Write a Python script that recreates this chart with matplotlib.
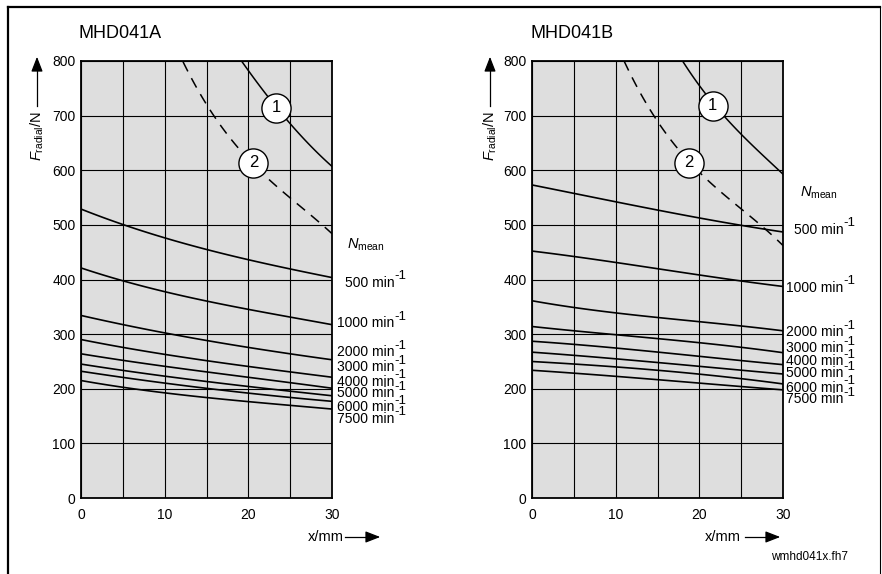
import numpy as np
import matplotlib.pyplot as plt
from matplotlib.lines import Line2D

plt.rcParams['font.family'] = ['Liberation Sans', 'DejaVu Sans']
plt.rcParams['mathtext.fontset'] = 'custom'
plt.rcParams['mathtext.rm'] = 'Liberation Sans'
plt.rcParams['mathtext.it'] = 'Liberation Sans:italic'

# x positions (mm) at which the speed curves were read
x_mm = [0, 5, 10, 15, 20, 25, 30]
speeds = ["500", "1000", "2000", "3000", "4000", "5000", "6000", "7500"]

# MHD041A, radial force (N) per mean speed
a_curves = [
    [528, 503, 476, 452, 438, 420, 403],
    [421, 398, 378, 360, 345, 332, 317],
    [334, 318, 302, 288, 276, 264, 253],
    [290, 276, 263, 251, 241, 231, 221],
    [264, 252, 241, 231, 221, 211, 201],
    [245, 234, 223, 213, 204, 196, 187],
    [232, 221, 210, 201, 192, 184, 177],
    [215, 203, 192, 184, 177, 169, 163],
]
# MHD041B
b_curves = [
    [573, 558, 542, 527, 513, 499, 487],
    [452, 442, 432, 419, 408, 398, 387],
    [361, 349, 339, 330, 323, 315, 306],
    [314, 306, 299, 292, 284, 276, 266],
    [287, 281, 275, 267, 259, 252, 244],
    [267, 261, 255, 248, 241, 234, 227],
    [250, 245, 240, 234, 227, 218, 209],
    [234, 228, 223, 217, 210, 204, 198],
]

# limit curves (1 solid, 2 dashed)
a_lim1_x = [19.2, 20, 22, 24, 26, 28, 30]
a_lim1_y = [800, 782, 742, 703, 668, 636, 607]
a_lim2_x = [12.2, 14, 16, 18, 20, 22, 24, 26, 28, 30]
a_lim2_y = [800, 745, 695, 655, 622, 592, 563, 535, 508, 486]
b_lim1_x = [18, 20, 22, 24, 26, 28, 30]
b_lim1_y = [800, 755, 716, 682, 651, 621, 593]
b_lim2_x = [11, 12, 14, 16, 18, 20, 22, 24, 26, 28, 30]
b_lim2_y = [800, 770, 712, 668, 628, 597, 570, 542, 515, 490, 463]

W, H = 882, 574
fig = plt.figure(figsize=(W / 100, H / 100), dpi=100)


def fx(px):
    return px / W


def fy(py):
    return 1 - py / H


def smooth(xs, ys):
    xx = np.linspace(xs[0], xs[-1], 120)
    k = min(3, len(xs) - 1)
    c = np.polyfit(xs, ys, k)
    return xx, np.polyval(c, xx)


panels = [
    dict(title="MHD041A", left=81, curves=a_curves,
         lim=(a_lim1_x, a_lim1_y, a_lim2_x, a_lim2_y),
         circ=((23.3, 714), (20.6, 614)),
         nmean=(31.8, 463), lab_x=30.6,
         lab_y=[394, 320, 267, 240, 213, 192, 166, 145],
         ylab_x=37, xlab=(326, 345, 383)),
    dict(title="MHD041B", left=532, curves=b_curves,
         lim=(b_lim1_x, b_lim1_y, b_lim2_x, b_lim2_y),
         circ=((21.6, 718), (18.8, 614)),
         nmean=(32.0, 559), lab_x=30.4,
         lab_y=[491, 385, 304, 274, 250, 228, 202, 181],
         ylab_x=490, xlab=(723, 745, 783)),
]

for p in panels:
    ax = fig.add_axes([fx(p["left"]), fy(498), 251 / W, 437 / H])
    ax.set_facecolor("#dedede")
    ax.set_xlim(0, 30)
    ax.set_ylim(0, 800)
    ax.set_xticks(np.arange(0, 31, 5))
    ax.set_xticklabels(["0", "", "10", "", "20", "", "30"])
    ax.set_yticks(np.arange(0, 801, 100))
    ax.tick_params(length=0, labelsize=10, pad=4)
    ax.tick_params(axis="x", pad=7)
    ax.grid(True, color="black", linewidth=0.8)
    ax.set_axisbelow(True)
    for s in ax.spines.values():
        s.set_linewidth(1.3)

    for ys in p["curves"]:
        xx, yy = smooth(x_mm, ys)
        ax.plot(xx, yy, color="black", lw=1.2, zorder=3)

    l1x, l1y, l2x, l2y = p["lim"]
    xx, yy = smooth(l1x, l1y)
    ax.plot(xx, yy, color="black", lw=1.1, zorder=3)
    xx, yy = smooth(l2x, l2y)
    ax.plot(xx, yy, color="black", lw=1.1, dashes=(7, 5), zorder=3)

    for i, (cx, cy) in enumerate(p["circ"]):
        ax.plot(cx, cy, "o", ms=21, mfc="white", mec="black", mew=1.0, zorder=5)
        ax.text(cx, cy, str(i + 1), ha="center", va="center", fontsize=12, zorder=6)

    ax.text(p["nmean"][0], p["nmean"][1], r"$\mathit{N}_{\mathrm{mean}}$",
            fontsize=10.5, ha="left", va="center", clip_on=False)
    for sp, ly in zip(speeds, p["lab_y"]):
        lx = p["lab_x"] + (0.9 if sp == "500" else 0)
        t = ax.text(lx, ly, sp + " min", fontsize=10, ha="left",
                    va="center", clip_on=False)
        ax.annotate("-1", xy=(1.0, 0.95), xycoords=t, fontsize=9.5,
                    ha="left", va="center")

    fig.text(fx(p["left"] - 2), fy(33), p["title"], fontsize=13,
             ha="left", va="center")

    # y axis label with upward arrow
    fig.text(fx(p["ylab_x"]), fy(136), r"$\mathit{F}_{\mathrm{radial}}$/N",
             rotation=90, fontsize=10.5, ha="center", va="center")
    fig.add_artist(Line2D([fx(p["ylab_x"])] * 2, [fy(106), fy(64)],
                          color="black", lw=0.9))
    ax.annotate("", xy=(fx(p["ylab_x"]), fy(54)),
                xytext=(fx(p["ylab_x"]), fy(67)), xycoords="figure fraction",
                arrowprops=dict(arrowstyle="-|>,head_length=0.9,head_width=0.35",
                                color="black", lw=0.9))

    # x axis label with arrow
    tx, a0, a1 = p["xlab"]
    fig.text(fx(tx), fy(537), "x/mm", fontsize=10.5, ha="center", va="center")
    fig.add_artist(Line2D([fx(a0), fx(a1 - 10)], [fy(537)] * 2,
                          color="black", lw=0.9))
    ax.annotate("", xy=(fx(a1), fy(537)), xytext=(fx(a1 - 12), fy(537)),
                xycoords="figure fraction",
                arrowprops=dict(arrowstyle="-|>,head_length=0.9,head_width=0.35",
                                color="black", lw=0.9))

fig.text(fx(848), fy(557), "wmhd041x.fh7", fontsize=8.5, ha="right", va="center")

# outer frame
fig.add_artist(Line2D([fx(8), fx(8)], [fy(7), 0], color="black", lw=1.6))
fig.add_artist(Line2D([fx(8), fx(880)], [fy(7), fy(7)], color="black", lw=1.6))
fig.add_artist(Line2D([fx(880), fx(880)], [fy(7), 0], color="black", lw=0.8))

fig.savefig("out.png", dpi=100)
